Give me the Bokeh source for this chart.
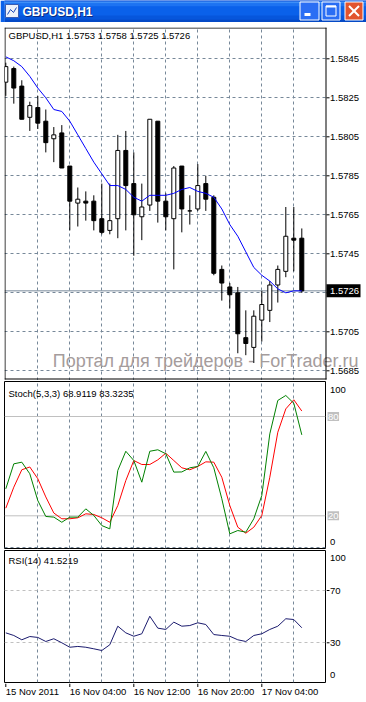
from bokeh.plotting import figure
from bokeh.layouts import column, row
from bokeh.models import Range1d, FixedTicker, Span, Label, ColumnDataSource
from bokeh.core.properties import value
from bokeh.embed import file_html
from bokeh.resources import INLINE

# ---------------- data ----------------
bars = list(range(38))
opens = [1.5833, 1.5840, 1.5831, 1.5815, 1.5820, 1.5813, 1.5804, 1.5807, 1.5790, 1.5771,
         1.5772, 1.5772, 1.5763, 1.5757, 1.5763, 1.5798, 1.5781, 1.5764, 1.5770, 1.5813,
         1.5772, 1.5763, 1.5790, 1.5767, 1.5768, 1.5781, 1.5774, 1.5737, 1.5728, 1.5725,
         1.5702, 1.5697, 1.5711, 1.5716, 1.5729, 1.5736, 1.5753, 1.5753]
highs = [1.5843, 1.5841, 1.5834, 1.5823, 1.5826, 1.5819, 1.5810, 1.5811, 1.5790, 1.5779,
         1.5777, 1.5775, 1.5781, 1.5781, 1.5806, 1.5808, 1.5797, 1.5781, 1.5814, 1.5813,
         1.5776, 1.5790, 1.5790, 1.5775, 1.5791, 1.5785, 1.5775, 1.5739, 1.5730, 1.5728,
         1.5716, 1.5716, 1.5726, 1.5731, 1.5739, 1.5769, 1.5769, 1.5758]
lows = [1.5826, 1.5822, 1.5814, 1.5808, 1.5809, 1.5797, 1.5792, 1.5789, 1.5757, 1.5759,
        1.5762, 1.5757, 1.5755, 1.5755, 1.5753, 1.5757, 1.5744, 1.5752, 1.5767, 1.5761,
        1.5757, 1.5737, 1.5756, 1.5760, 1.5767, 1.5767, 1.5734, 1.5721, 1.5717, 1.5694,
        1.5693, 1.5689, 1.5700, 1.5710, 1.5720, 1.5733, 1.5736, 1.5725]
closes = [1.5841, 1.5830, 1.5814, 1.5821, 1.5812, 1.5802, 1.5806, 1.5789, 1.5772, 1.5773,
          1.5771, 1.5762, 1.5756, 1.5762, 1.5798, 1.5780, 1.5765, 1.5769, 1.5814, 1.5772,
          1.5764, 1.5789, 1.5768, 1.5767, 1.5780, 1.5773, 1.5735, 1.5730, 1.5724, 1.5704,
          1.5699, 1.5713, 1.5719, 1.5729, 1.5737, 1.5754, 1.5752, 1.5726]
ma = [1.5846, 1.5844, 1.5841, 1.5836, 1.5830, 1.5825, 1.5819, 1.5818, 1.5813, 1.5806,
      1.5799, 1.5792, 1.5786, 1.5780, 1.5780, 1.5778, 1.5774, 1.5772, 1.5775, 1.5775,
      1.5775, 1.5776, 1.5778, 1.5779, 1.5777, 1.5776, 1.5774, 1.5768, 1.5760, 1.5754,
      1.5746, 1.5738, 1.5734, 1.5731, 1.5727, 1.5725, 1.5726, 1.5726]
stoch_main = [36.3, 51.4, 52.4, 45.4, 29.2, 19.6, 19.2, 16.1, 19.2, 19.2,
              24.2, 20.2, 14.1, 12.1, 47.4, 59.0, 53.4, 40.3, 59.0, 59.9,
              57.5, 46.4, 46.5, 49.0, 49.8, 58.9, 49.0, 30.3, 9.1, 11.1,
              10.1, 18.2, 32.3, 69.5, 89.7, 92.7, 88.0, 68.9]
stoch_signal = [24.6, 37.3, 47.8, 49.5, 42.4, 31.4, 21.7, 18.2, 18.2, 18.8,
                21.2, 20.8, 18.8, 16.1, 26.2, 41.3, 53.4, 51.0, 51.0, 53.8,
                57.8, 53.4, 49.0, 47.8, 49.8, 52.6, 52.4, 43.3, 26.2, 13.1,
                9.5, 13.1, 20.2, 43.3, 70.5, 84.6, 90.1, 83.3]
rsi = [37.6, 35.6, 32.3, 34.8, 34.1, 31.0, 33.1, 30.0, 26.6, 27.2,
       26.6, 25.4, 24.1, 28.5, 42.7, 37.6, 35.0, 36.9, 50.3, 41.2,
       40.2, 45.8, 42.7, 43.2, 45.3, 44.0, 36.3, 35.6, 35.0, 32.3,
       31.0, 35.6, 36.9, 40.2, 42.7, 48.4, 47.8, 41.5]

price_ticks = [1.5685, 1.5705, 1.5745, 1.5765, 1.5785, 1.5805, 1.5825, 1.5845]
price_tick_labels = ["1.5685", "1.5705", "1.5745", "1.5765", "1.5785", "1.5805", "1.5825", "1.5845"]
price_grid = [1.5685, 1.5705, 1.5725, 1.5745, 1.5765, 1.5785, 1.5805, 1.5825, 1.5845]
last_price = 1.5726
last_price_label = "1.5726"
time_ticks = [0, 8, 16, 24, 32]
time_labels = ["15 Nov 2011", "16 Nov 04:00", "16 Nov 12:00", "16 Nov 20:00", "17 Nov 04:00"]
grid_bars = [4, 8, 12, 16, 20, 24, 28, 32, 36]
stoch_levels = [20, 80]
stoch_level_labels = ["20", "80"]
stoch_scale_values = [96.1, 4.05]
stoch_scale_labels = ["100", "0"]
rsi_levels = [30, 70]
rsi_scale_values = [95.0, 70, 30, 5.0]
rsi_scale_labels = ["100", "70", "30", "0"]

window_title = "GBPUSD,H1"
title_text = "GBPUSD,H1 1.5753 1.5758 1.5725 1.5726"
stoch_text = "Stoch(5,3,3) 68.9119 83.3235"
rsi_text = "RSI(14) 41.5219"
watermark = "Портал для трейдеров - ForTrader.ru"

# ---------------- styles / layout ----------------
W = 366
W_PANEL = 326
W_SIDE = 40
LEFT = 4                     # every figure of the column keeps the same left border
BAR_PX = 8.0                 # pixels per bar
BAR0_PX = 5.3                # pixel column of bar 0's centre
SIDE_XR = (326, 366)         # pixel-like units for the scale strips
FONT = "Liberation Sans"
FS = "9.5px"
GRID = "#778899"
LEVEL = "#C0C0C0"
WM_COLOR = "#A59C9C"
TITLE_BLUE = "#0A61EA"


def bx(px):
    """pixel column -> bar units"""
    return (px - BAR0_PX) / BAR_PX


XR = (bx(4), bx(325))        # bar units across a panel frame


def base(width, height, xr, yr, left, right, top, bottom, outline):
    f = figure(width=width, height=height, x_range=xr, y_range=yr,
               x_axis_location=None, y_axis_location=None, toolbar_location=None,
               output_backend="svg", min_border_left=left, min_border_right=right,
               min_border_top=top, min_border_bottom=bottom)
    f.outline_line_color = "black" if outline else None
    f.outline_line_alpha = 1.0
    f.background_fill_color = "white"
    f.border_fill_color = "white"
    f.grid.visible = False
    return f


def vgrid(f):
    f.xgrid.visible = True
    f.xgrid.ticker = FixedTicker(ticks=grid_bars)
    f.xgrid.grid_line_color = GRID
    f.xgrid.grid_line_dash = "3 3"


def panel(height, yr, top, bottom):
    f = base(W_PANEL, height, Range1d(*XR), yr, LEFT, 1, top, bottom, True)
    vgrid(f)
    return f


def side(height, yr, top, bottom):
    return base(W_SIDE, height, Range1d(*SIDE_XR), yr, 0, 0, top, bottom, False)


def texts(f, xs, ys, ts, color="black", align="left", size=FS):
    f.text(x=xs, y=ys, text=ts, text_font=value(FONT), text_font_size=value(size),
           text_color=color, text_align=align, text_baseline="middle")


def label(f, x, y, t, color="black", size=FS, align="left", **kw):
    f.add_layout(Label(x=x, y=y, text=t, text_font=FONT, text_font_size=size,
                       text_color=color, text_align=align, text_baseline="middle", **kw))


# ---------------- window title bar ----------------
tb = base(W, 22, Range1d(LEFT, W), Range1d(22, 0), LEFT, 0, 0, 0, False)
tb.background_fill_color = TITLE_BLUE
tb.border_fill_color = TITLE_BLUE
band_top = [0, 1, 3, 6, 15, 19]
band_bot = [1, 3, 6, 15, 19, 22]
band_col = ["#1746C8", "#3D8FF8", "#1D73F2", "#0A61EA", "#0656DC", "#0449C6"]
tb.quad(left=0, right=W, top=band_top, bottom=band_bot, fill_color=band_col, line_color=None)
tb.quad(left=[5], right=[18], top=[4], bottom=[17], fill_color="#EEF2FA", line_color="#3A5CB0")
tb.line(x=[7, 10, 13, 16], y=[14, 9, 12, 7], line_color="#1D49B8", line_width=1)
tb.add_layout(Label(x=23, y=12, text=window_title, text_font=FONT, text_font_size="12px",
                    text_font_style="bold", text_color="#0A2A80", text_baseline="middle"))
tb.add_layout(Label(x=22, y=11, text=window_title, text_font=FONT, text_font_size="12px",
                    text_font_style="bold", text_color="white", text_baseline="middle"))
tb.quad(left=[299.5, 321.5], right=[318.5, 339.5], top=[1.5, 1.5], bottom=[19.5, 19.5],
        fill_color="#2A6EF4", line_color="white")
tb.quad(left=[344.5], right=[362.5], top=[1.5], bottom=[19.5], fill_color="#E2542E",
        line_color="white")
tb.segment(x0=[304], y0=[14], x1=[310], y1=[14], line_color="white", line_width=3)
tb.quad(left=[325.5], right=[335.5], top=[5.5], bottom=[15.5], fill_color=None, line_color="white")
tb.segment(x0=[325.5], y0=[6], x1=[335.5], y1=[6], line_color="white", line_width=2)
tb.segment(x0=[348.5, 358.5], y0=[5.5, 5.5], x1=[358.5, 348.5], y1=[15.5, 15.5],
           line_color="white", line_width=2)

# ---------------- price panel (one frame: chart + price scale) ----------------
PPX = 19500.0                # pixels per price unit
P_REF, Y_REF = 1.5845, 58.3  # a grid price and its pixel row


def py(px_row):
    """pixel row -> price"""
    return P_REF - (px_row - Y_REF) / PPX


main = base(W, 358, Range1d(bx(LEFT), bx(W)), Range1d(py(380), py(27)), LEFT, 0, 5, 0, False)
vgrid(main)
main.ygrid.visible = True
main.ygrid.ticker = FixedTicker(ticks=price_grid)
main.ygrid.grid_line_color = GRID
main.ygrid.grid_line_dash = "3 3"
main.add_layout(Span(location=last_price, dimension="width", line_color=GRID,
                     line_width=1, level="underlay"))
# blank strip for the price scale (hides grid lines right of the panel border)
main.quad(left=[bx(326)], right=[bx(W)], top=[py(27)], bottom=[py(380)],
          fill_color="white", line_color=None)
main.text(x=[bx(358)], y=[py(360)], text=[watermark], text_font=value(FONT),
          text_font_size=value("18px"), text_color=WM_COLOR, text_align="right",
          text_baseline="middle")
# panel border (1px filled strips)
main.quad(left=[bx(4), bx(325), bx(4), bx(4)], right=[bx(5), bx(326), bx(326), bx(326)],
          top=[py(27), py(27), py(27), py(378)], bottom=[py(379), py(379), py(28), py(379)],
          fill_color="black", line_color=None)

src = ColumnDataSource(dict(
    x=bars, high=highs, low=lows,
    top=[max(o, c) for o, c in zip(opens, closes)],
    bottom=[min(o, c) for o, c in zip(opens, closes)],
    fill=["white" if c >= o else "black" for o, c in zip(opens, closes)],
))
main.segment(x0="x", y0="low", x1="x", y1="high", source=src, line_color="black", line_width=1)
main.vbar(x="x", width=0.5, top="top", bottom="bottom", source=src,
          fill_color="fill", line_color="black", line_width=1)
main.line(bars, ma, line_color="#0000FF", line_width=1)
label(main, bx(8), py(35), title_text)

n = len(price_grid)
main.segment(x0=[bx(326)] * n, y0=price_grid, x1=[bx(329)] * n, y1=price_grid,
             line_color="black", line_width=1)
texts(main, [bx(329.5)] * len(price_ticks), price_ticks, price_tick_labels)
main.rect(x=[bx(343)], y=[last_price], width=[34], height=[13], width_units="screen",
          height_units="screen", fill_color="black", line_color=None)
texts(main, [bx(329.5)], [last_price], [last_price_label], color="white")

# ---------------- stochastic panel ----------------
st_yr = Range1d(0.24, 101.15)
st = panel(169, st_yr, 1, 1)
st.ygrid.visible = True
st.ygrid.ticker = FixedTicker(ticks=[1])
st.ygrid.grid_line_color = GRID
st.ygrid.grid_line_dash = "3 3"
for lv in stoch_levels:
    st.add_layout(Span(location=lv, dimension="width", line_color=LEVEL,
                       line_width=1, level="underlay"))
st.line(bars, stoch_signal, line_color="#FF0000", line_width=1)
st.line(bars, stoch_main, line_color="#008000", line_width=1)
label(st, bx(8), 94.1, stoch_text)

st_r = side(169, st_yr, 1, 1)
texts(st_r, [329.5] * 2, stoch_scale_values, stoch_scale_labels)
st_r.rect(x=[332.8] * 2, y=stoch_levels, width=[11.5] * 2, height=[9] * 2,
          height_units="screen", fill_color=LEVEL, line_color=None)
texts(st_r, [332.8] * 2, stoch_levels, stoch_level_labels, color="white", align="center")

# ---------------- RSI panel ----------------
rs_yr = Range1d(-0.38, 100.61)
rs = panel(134, rs_yr, 1, 1)
rs.ygrid.visible = True
rs.ygrid.ticker = FixedTicker(ticks=rsi_levels)
rs.ygrid.grid_line_color = LEVEL
rs.ygrid.grid_line_dash = "3 3"
rs.line(bars, rsi, line_color="#1B1B6E", line_width=1)
label(rs, bx(8), 92.9, rsi_text)

rs_r = side(134, rs_yr, 1, 1)
rs_r.segment(x0=[326] * 2, y0=rsi_levels, x1=[329] * 2, y1=rsi_levels,
             line_color="black", line_width=1)
texts(rs_r, [329.5] * 4, rsi_scale_values, rsi_scale_labels)

# ---------------- time scale ----------------
tf = base(W, 19, Range1d(bx(LEFT), bx(W)), Range1d(19, 0), LEFT, 0, 0, 0, False)
tf.segment(x0=time_ticks, y0=[0] * len(time_ticks), x1=time_ticks, y1=[3.5] * len(time_ticks),
           line_color="black", line_width=1)
texts(tf, time_ticks, [8.4] * len(time_ticks), time_labels)

layout = column(tb, main, row(st, st_r, spacing=0), row(rs, rs_r, spacing=0), tf, spacing=0)
open("out.html", "w").write(file_html(layout, INLINE, title="GBPUSD,H1"))
